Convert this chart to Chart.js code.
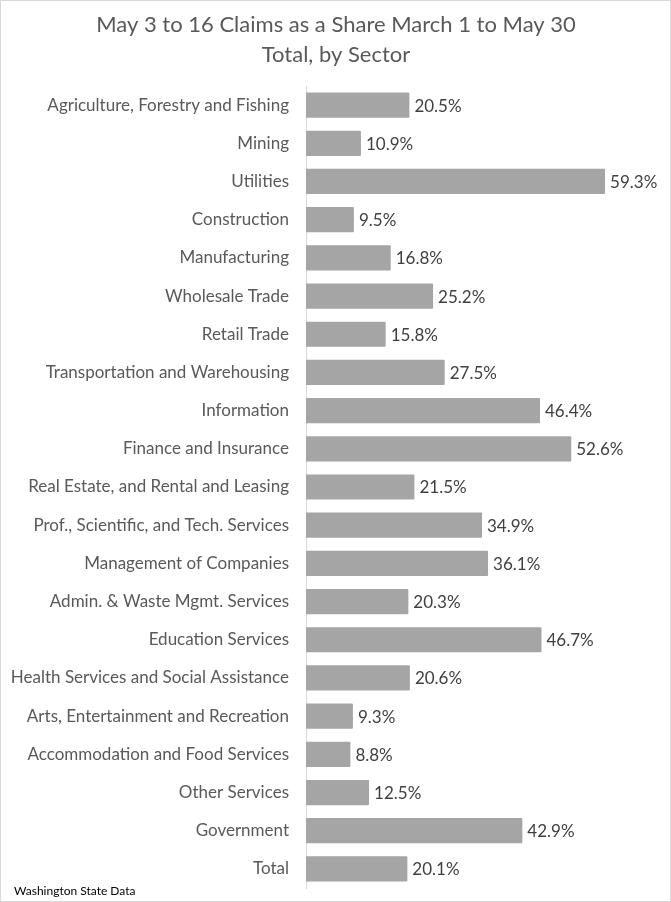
<!DOCTYPE html>
<html>
<head>
<meta charset="utf-8">
<script src="https://cdn.jsdelivr.net/npm/chart.js@4.4.1/dist/chart.umd.min.js"></script>
<style>
  html, body { margin: 0; padding: 0; background: #fff; }
  #wrap { width: 671px; height: 902px; position: relative; }
</style>
</head>
<body>
<div id="wrap"><canvas id="chart" width="671" height="902"></canvas></div>
<script>
const sectors = [
  "Agriculture, Forestry and Fishing", "Mining", "Utilities", "Construction",
  "Manufacturing", "Wholesale Trade", "Retail Trade", "Transportation and Warehousing",
  "Information", "Finance and Insurance", "Real Estate, and Rental and Leasing",
  "Prof., Scientific, and Tech. Services", "Management of Companies",
  "Admin. & Waste Mgmt. Services", "Education Services",
  "Health Services and Social Assistance", "Arts, Entertainment and Recreation",
  "Accommodation and Food Services", "Other Services", "Government", "Total"
];
const shares = [20.5, 10.9, 59.3, 9.5, 16.8, 25.2, 15.8, 27.5, 46.4, 52.6, 21.5,
  34.9, 36.1, 20.3, 46.7, 20.6, 9.3, 8.8, 12.5, 42.9, 20.1];
const titleLines = ["May 3 to 16 Claims as a Share March 1 to May 30", "Total, by Sector"];
const sourceNote = "Washington State Data";

const FONT = "Lato, 'Liberation Sans', sans-serif";

// title, source note, frame and value labels
const decorations = {
  id: "decorations",
  afterDatasetsDraw(chart) {
    const ctx = chart.ctx;
    ctx.save();
    const meta = chart.getDatasetMeta(0);
    ctx.font = "17px " + FONT;
    ctx.fillStyle = "#404040";
    ctx.textAlign = "left";
    ctx.textBaseline = "middle";
    meta.data.forEach((bar, i) => {
      ctx.fillText(shares[i].toFixed(1) + "%", bar.x + 5, bar.y + 1);
    });
    ctx.restore();
  },
  afterDraw(chart) {
    const ctx = chart.ctx;
    ctx.save();
    ctx.fillStyle = "#595959";
    ctx.textAlign = "center";
    ctx.textBaseline = "middle";
    ctx.font = "22px " + FONT;
    ctx.fillText(titleLines[0], 336, 25);
    ctx.fillText(titleLines[1], 336, 55);
    ctx.fillStyle = "#000";
    ctx.textAlign = "left";
    ctx.font = "12px " + FONT;
    ctx.fillText(sourceNote, 14, 891);
    ctx.strokeStyle = "#d9d9d9";
    ctx.lineWidth = 1;
    ctx.strokeRect(0.5, 0.5, 670, 901);
    ctx.restore();
  }
};

const ctx = document.getElementById("chart").getContext("2d");
new Chart(ctx, {
  type: "bar",
  data: {
    labels: sectors,
    datasets: [{
      data: shares,
      backgroundColor: "#a5a5a5",
      borderRadius: 1,
      barPercentage: 0.66,
      categoryPercentage: 1.0
    }]
  },
  options: {
    indexAxis: "y",
    responsive: false,
    animation: false,
    devicePixelRatio: 1,
    layout: { padding: { top: 86, bottom: 14, right: 12, left: 0 } },
    plugins: { legend: { display: false }, tooltip: { enabled: false } },
    scales: {
      x: { display: false, min: 0, max: 70 },
      y: {
        grid: { display: false, drawTicks: true, tickLength: 17 },
        border: { color: "#d9d9d9", width: 1 },
        ticks: { color: "#595959", font: { family: FONT, size: 17 }, padding: 0 },
        afterFit(scale) { scale.width = 306; }
      }
    }
  },
  plugins: [decorations]
});
</script>
</body>
</html>
